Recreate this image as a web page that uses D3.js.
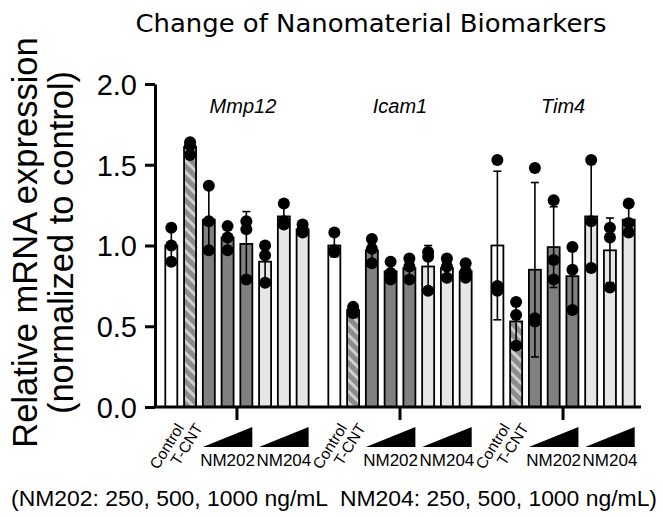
<!DOCTYPE html>
<html>
<head>
<meta charset="utf-8">
<script src="https://cdn.jsdelivr.net/npm/d3@7"></script>
<style>
  html, body { margin: 0; padding: 0; background: #fff; }
  svg { display: block; }
  text { font-family: "Liberation Sans", Arial, Helvetica, sans-serif; fill: #000; }
</style>
</head>
<body>
<svg id="chart" width="663" height="517"></svg>
<script>
// ---------------- DATA ----------------
const genes = ["Mmp12", "Icam1", "Tim4"];
const conditions = ["Control", "T-CNT", "NM202-250", "NM202-500", "NM202-1000", "NM204-250", "NM204-500", "NM204-1000"];
const conditionKind = ["control", "tcnt", "nm202", "nm202", "nm202", "nm204", "nm204", "nm204"];
const yTicks = [0, 0.5, 1.0, 1.5, 2.0];
const xTickLabels = ["Control", "T-CNT"];
const doseLabels = ["NM202", "NM204"];

const mmp12Mean = [1.00, 1.61, 1.16, 1.05, 1.01, 0.90, 1.18, 1.10];
const mmp12SD   = [0.10, 0.04, 0.20, 0.07, 0.20, 0.12, 0.07, 0.03];
const mmp12Pts  = [[1.11, 1.00, 0.90], [1.64, 1.62, 1.56], [1.37, 1.15, 0.97], [1.12, 1.05, 0.97],
                   [1.15, 1.10, 0.79], [1.00, 0.94, 0.77], [1.26, 1.15, 1.13], [1.13, 1.10, 1.08]];

const icam1Mean = [1.00, 0.60, 0.97, 0.84, 0.86, 0.87, 0.86, 0.84];
const icam1SD   = [0.07, 0.02, 0.08, 0.06, 0.07, 0.13, 0.06, 0.05];
const icam1Pts  = [[1.08, 0.97, 0.96], [0.62, 0.60, 0.58], [1.04, 0.98, 0.89], [0.90, 0.83, 0.79],
                   [0.92, 0.87, 0.79], [0.96, 0.93, 0.72], [0.92, 0.87, 0.80], [0.89, 0.84, 0.80]];

const tim4Mean = [1.00, 0.53, 0.85, 0.99, 0.81, 1.18, 0.97, 1.16];
const tim4SD   = [0.46, 0.14, 0.54, 0.25, 0.20, 0.34, 0.20, 0.09];
const tim4Pts  = [[1.53, 0.75, 0.72], [0.65, 0.57, 0.38], [1.48, 0.55, 0.53], [1.28, 0.91, 0.79],
                   [0.99, 0.85, 0.60], [1.53, 1.15, 0.86], [1.11, 1.05, 0.74], [1.26, 1.14, 1.08]];

const titleText = "Change of Nanomaterial Biomarkers";
const yTitle1 = "Relative mRNA expression";
const yTitle2 = "(normalized to control)";
const noteText = "(NM202: 250, 500, 1000 ng/mL  NM204: 250, 500, 1000 ng/mL)";

// ---------------- BUILD ----------------
const series = [
  { gene: "Mmp12", mean: mmp12Mean, sd: mmp12SD, pts: mmp12Pts },
  { gene: "Icam1", mean: icam1Mean, sd: icam1SD, pts: icam1Pts },
  { gene: "Tim4",  mean: tim4Mean,  sd: tim4SD,  pts: tim4Pts }
];
const bars = [];
series.forEach(s => conditions.forEach((c, i) => {
  bars.push({ gene: s.gene, cond: c, kind: conditionKind[i], mean: s.mean[i], sd: s.sd[i], pts: s.pts[i] });
}));

const fills = { control: "#ffffff", tcnt: "url(#hatch)", nm202: "#808080", nm204: "#e6e6e6" };

const svg = d3.select("#chart");
const plotLeft = 155, plotRight = 641, plotTop = 84, plotBottom = 407;

const defs = svg.append("defs");
const pat = defs.append("pattern").attr("id", "hatch").attr("patternUnits", "userSpaceOnUse")
  .attr("width", 8).attr("height", 8).attr("patternTransform", "rotate(-45)");
pat.append("rect").attr("width", 8).attr("height", 8).attr("fill", "#8c8c8c");
pat.append("rect").attr("width", 3).attr("height", 8).attr("fill", "#cfcfcf");

const x0 = d3.scaleBand().domain(genes).range([165.3, 634.7]).paddingInner(0.121).paddingOuter(0);
const x1 = d3.scaleBand().domain(conditions).range([0, x0.bandwidth()]).paddingInner(0.36).paddingOuter(0);
const y = d3.scaleLinear().domain([0, 2]).range([plotBottom, plotTop]);
const cx = d => x0(d.gene) + x1(d.cond) + x1.bandwidth() / 2;

// Bars
svg.append("g").selectAll("rect").data(bars).join("rect")
  .attr("x", d => x0(d.gene) + x1(d.cond))
  .attr("y", d => y(d.mean))
  .attr("width", x1.bandwidth())
  .attr("height", d => y(0) - y(d.mean))
  .attr("fill", d => fills[d.kind])
  .attr("stroke", "#000").attr("stroke-width", 1.8);

// Error bars
const eg = svg.append("g").attr("stroke", "#000").attr("stroke-width", 1.6);
eg.selectAll("line.v").data(bars).join("line").attr("class", "v")
  .attr("x1", cx).attr("x2", cx)
  .attr("y1", d => y(d.mean + d.sd)).attr("y2", d => y(Math.max(0, d.mean - d.sd)));
eg.selectAll("line.top").data(bars).join("line").attr("class", "top")
  .attr("x1", d => cx(d) - 4).attr("x2", d => cx(d) + 4)
  .attr("y1", d => y(d.mean + d.sd)).attr("y2", d => y(d.mean + d.sd));
eg.selectAll("line.bot").data(bars).join("line").attr("class", "bot")
  .attr("x1", d => cx(d) - 4).attr("x2", d => cx(d) + 4)
  .attr("y1", d => y(d.mean - d.sd)).attr("y2", d => y(d.mean - d.sd));

// Points
const pts = [];
bars.forEach(b => b.pts.forEach(v => pts.push({ b, v })));
svg.append("g").selectAll("circle").data(pts).join("circle")
  .attr("cx", d => cx(d.b)).attr("cy", d => y(d.v)).attr("r", 6).attr("fill", "#000");

// Y axis
const yAxis = svg.append("g").attr("transform", `translate(${plotLeft},0)`)
  .call(d3.axisLeft(y).tickValues(yTicks).tickFormat(d3.format(".1f")).tickSize(10).tickSizeOuter(0).tickPadding(8));
yAxis.select(".domain").attr("stroke-width", 3).attr("stroke", "#000");
yAxis.selectAll(".tick line").attr("stroke-width", 3).attr("stroke", "#000");
yAxis.selectAll(".tick text").attr("font-size", 29).attr("font-family", "Liberation Sans, Arial, sans-serif").attr("dy", "0.36em");

// X axis baseline + group ticks
svg.append("line").attr("x1", plotLeft - 1.5).attr("x2", plotRight).attr("y1", y(0)).attr("y2", y(0))
  .attr("stroke", "#000").attr("stroke-width", 3);
svg.append("g").selectAll("line").data(genes).join("line")
  .attr("x1", g => x0(g) + x0.bandwidth() / 2).attr("x2", g => x0(g) + x0.bandwidth() / 2)
  .attr("y1", y(0)).attr("y2", y(0) + 13).attr("stroke", "#000").attr("stroke-width", 3);

// Gene labels
svg.append("g").selectAll("text").data(genes).join("text")
  .attr("x", (g, i) => x0(g) + x0.bandwidth() / 2 + (i === 0 ? 6 : 0)).attr("y", 113)
  .attr("text-anchor", "middle").attr("font-size", 20).attr("font-style", "italic").text(g => g);

// Rotated Control / T-CNT labels
const rot = [];
genes.forEach(g => xTickLabels.forEach((t, i) => rot.push({ g, t, c: conditions[i] })));
svg.append("g").selectAll("text").data(rot).join("text")
  .attr("transform", d => `translate(${x0(d.g) + x1(d.c) + x1.bandwidth() / 2 + 4},${y(0) + 15}) rotate(-58)`)
  .attr("text-anchor", "end").attr("dy", "0.7em").attr("font-size", 15.5).text(d => d.t);

// Dose triangles + NM labels
const doseGroups = [];
genes.forEach(g => doseLabels.forEach((lab, k) => {
  const first = conditions[2 + k * 3], mid = conditions[3 + k * 3], last = conditions[4 + k * 3];
  doseGroups.push({ g, lab, first, mid, last });
}));
svg.append("g").selectAll("path").data(doseGroups).join("path")
  .attr("d", d => {
    const xl = x0(d.g) + x1(d.first), xr = x0(d.g) + x1(d.last) + x1.bandwidth();
    return `M${xl},447 L${xr},427 L${xr},447 Z`;
  }).attr("fill", "#000");
svg.append("g").selectAll("text").data(doseGroups).join("text")
  .attr("x", d => x0(d.g) + x1(d.mid) + x1.bandwidth() / 2).attr("y", 466)
  .attr("text-anchor", "middle").attr("font-size", 17).text(d => d.lab);

// Title
svg.append("text").attr("x", 371).attr("y", 32).attr("text-anchor", "middle")
  .attr("font-size", 25).attr("textLength", 471).attr("lengthAdjust", "spacingAndGlyphs")
  .style("font-family", "'Comic Sans MS', 'DejaVu Sans', sans-serif")
  .text(titleText);

// Y title
const yMid = (plotTop + plotBottom) / 2 - 3;
svg.append("text").attr("transform", `translate(37,${yMid}) rotate(-90)`)
  .attr("text-anchor", "middle").attr("font-size", 34.5).text(yTitle1);
svg.append("text").attr("transform", `translate(73,${yMid}) rotate(-90)`)
  .attr("text-anchor", "middle").attr("font-size", 34.5).text(yTitle2);

// Note
svg.append("text").attr("x", 334).attr("y", 506).attr("text-anchor", "middle")
  .style("white-space", "pre").attr("xml:space", "preserve")
  .attr("font-size", 22).attr("textLength", 646).attr("lengthAdjust", "spacingAndGlyphs").text(noteText);
</script>
</body>
</html>
